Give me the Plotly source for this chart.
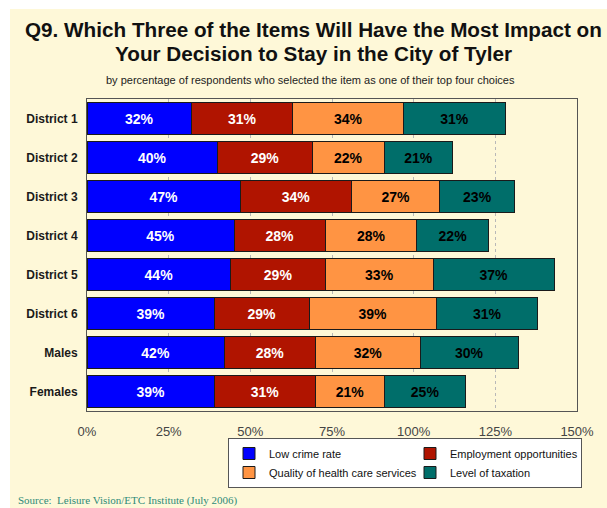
import plotly.graph_objects as go

# Survey results: share of respondents choosing each item among their top choices
groups = ["District 1", "District 2", "District 3", "District 4",
          "District 5", "District 6", "Males", "Females"]
low_crime = [32, 40, 47, 45, 44, 39, 42, 39]
employment = [31, 29, 34, 28, 29, 29, 28, 31]
health_care = [34, 22, 27, 28, 33, 39, 32, 21]
taxation = [31, 21, 23, 22, 37, 31, 30, 25]

series_names = ["Low crime rate", "Employment opportunities",
                "Quality of health care services", "Level of taxation"]
series_values = [low_crime, employment, health_care, taxation]
x_ticks = [0, 25, 50, 75, 100, 125, 150]
x_tick_labels = [f"{v}%" for v in x_ticks]

colors = ["#0000FF", "#B01400", "#FF9443", "#006E6A"]
label_colors = ["white", "white", "black", "black"]
# legend laid out as two columns: left column entries are wider
legend_widths = [136, 126, 136, 126]

FONT = "Arial, 'Liberation Sans', sans-serif"

fig = go.Figure()
for name, vals, col, lcol, lw in zip(series_names, series_values, colors,
                                     label_colors, legend_widths):
    fig.add_trace(go.Bar(
        y=groups, x=vals, name=name, orientation="h",
        marker=dict(color=col, line=dict(color="#1a1a1a", width=1)),
        text=vals, texttemplate="%{text}%", textposition="inside",
        insidetextanchor="middle", textangle=0,
        textfont=dict(family=FONT, size=14, color=lcol, weight="bold"),
        legendwidth=lw,
    ))

# plot area geometry (pixels)
W, H = 607, 508
L, R, T, B = 87, 30, 99, 97
pw, ph = W - L - R, H - T - B

def px(x):
    return (x - L) / pw

def py(y):
    return 1 - (y - T) / ph

fig.update_layout(
    width=W, height=H,
    margin=dict(l=L, r=R, t=T, b=B),
    paper_bgcolor="white",
    plot_bgcolor="white",
    barmode="stack",
    bargap=0.16,
    font=dict(family=FONT, color="#222"),
    showlegend=True,
    legend=dict(
        orientation="h", x=px(228), y=py(438), xanchor="left", yanchor="top",
        bgcolor="white", bordercolor="#555", borderwidth=1,
        font=dict(family=FONT, size=11, color="#111"),
        traceorder="normal", itemwidth=30, tracegroupgap=0,
    ),
    shapes=[
        dict(type="rect", xref="paper", yref="paper", layer="below",
             x0=px(10), x1=px(620), y0=py(520), y1=py(9),
             fillcolor="#FEF8D8", line=dict(width=0)),
    ],
    annotations=[
        dict(text="<b>Q9. Which Three of the Items Will Have the Most Impact on</b>",
             xref="paper", yref="paper", x=px(313), y=py(30),
             xanchor="center", yanchor="middle", showarrow=False,
             font=dict(family=FONT, size=20.7, color="#111")),
        dict(text="<b>Your Decision to Stay in the City of Tyler</b>",
             xref="paper", yref="paper", x=px(313), y=py(53),
             xanchor="center", yanchor="middle", showarrow=False,
             font=dict(family=FONT, size=20.7, color="#111")),
        dict(text="by percentage of respondents who selected the item as one of their top four choices",
             xref="paper", yref="paper", x=px(310), y=py(80),
             xanchor="center", yanchor="middle", showarrow=False,
             font=dict(family=FONT, size=11, color="#222")),
        dict(text="Source:  Leisure Vision/ETC Institute (July 2006)",
             xref="paper", yref="paper", x=px(16), y=py(500),
             xanchor="left", yanchor="middle", showarrow=False,
             font=dict(family="'Liberation Serif', 'Times New Roman', serif",
                       size=11, color="#2E8B78")),
    ],
)

fig.update_xaxes(
    range=[0, 150], tickmode="array", tickvals=x_ticks, ticktext=x_tick_labels,
    showgrid=True, gridcolor="#B8B8B8", griddash="dot", gridwidth=1,
    zeroline=False, showline=True, linecolor="#555", linewidth=1, mirror=True,
    tickfont=dict(family=FONT, size=13, color="#444"),
    ticklabelstandoff=8, fixedrange=True,
)
fig.update_yaxes(
    categoryorder="array", categoryarray=groups, autorange="reversed",
    showline=True, linecolor="#555", linewidth=1, mirror=True,
    tickfont=dict(family=FONT, size=12, color="#1a1a1a", weight="bold"),
    ticklabelstandoff=6, showgrid=False, fixedrange=True,
)

fig.write_html("out.html")
